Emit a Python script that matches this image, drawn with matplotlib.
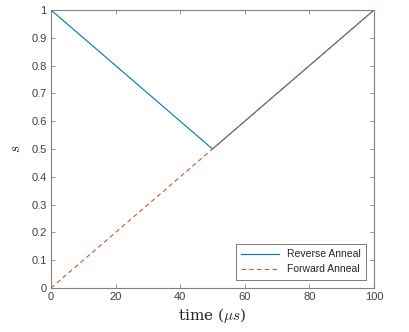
import matplotlib
matplotlib.use('Agg')
import matplotlib.pyplot as plt

# data
t_rev = [0, 50, 100]
s_rev = [1, 0.5, 1]
t_fwd = [0, 100]
s_fwd = [0, 1]

plt.rcParams['mathtext.fontset'] = 'cm'

fig = plt.figure(figsize=(4.09, 3.32), dpi=100, facecolor='white')
ax = fig.add_axes([51/409, 1 - 288/332, (374 - 51)/409, (288 - 10)/332])

ax.plot(t_rev, s_rev, color='#0072BD', lw=0.8, label='Reverse Anneal')
ax.plot(t_fwd, s_fwd, color='#D95319', lw=0.8, ls=(0, (4, 3)), label='Forward Anneal')

ax.set_xlim(0, 100)
ax.set_ylim(0, 1)
ax.set_xticks([0, 20, 40, 60, 80, 100])
ax.set_yticks([i / 10 for i in range(11)])
ax.set_yticklabels(['0', '0.1', '0.2', '0.3', '0.4', '0.5', '0.6', '0.7', '0.8', '0.9', '1'])

for sp in ax.spines.values():
    sp.set_color('#808080')
    sp.set_linewidth(0.8)
ax.tick_params(direction='in', top=True, right=True, length=3, width=0.6,
               colors='#808080', labelcolor='#404040', labelsize=8, pad=3)
for lbl in ax.get_xticklabels() + ax.get_yticklabels():
    lbl.set_family('Liberation Sans')

ax.set_xlabel(r'time ($\mu s$)', family='DejaVu Serif', fontsize=11, color='#262626', labelpad=3)
ax.set_ylabel(r'$s$', fontsize=11, color='#262626', labelpad=6)

leg = ax.legend(loc='lower right', fontsize=7.5, frameon=True, fancybox=False,
                edgecolor='#404040', handlelength=3.6, borderpad=0.5,
                labelspacing=0.5, borderaxespad=0, bbox_to_anchor=(0.975, 0.03))
leg.get_frame().set_linewidth(0.6)
for txt in leg.get_texts():
    txt.set_family('Liberation Sans')
    txt.set_color('#262626')

fig.savefig('out.png', dpi=100)
